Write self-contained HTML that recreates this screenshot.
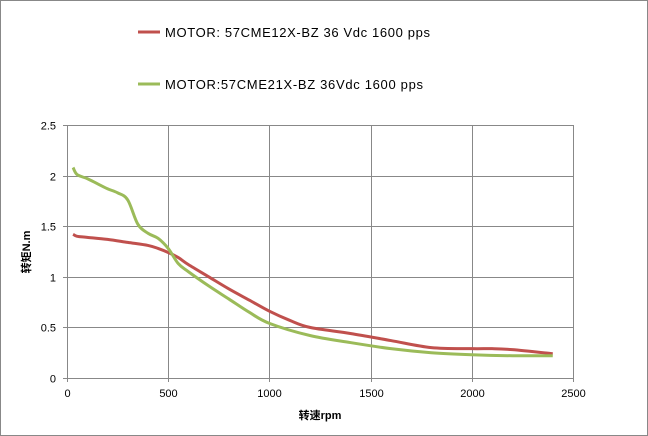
<!DOCTYPE html>
<html><head><meta charset="utf-8"><style>
body{margin:0;background:#fff;}
svg{display:block;font-family:"Liberation Sans","Noto Sans CJK SC",sans-serif;}
</style></head><body>
<svg id="chart" width="648" height="436">
<rect x="0.5" y="0.5" width="647" height="435" fill="#fff" stroke="#888"/>
<g id="grid"></g><g id="axes"></g><g id="series"></g>
<g>
<line x1="138" y1="32" x2="160" y2="32" stroke="#c0504d" stroke-width="3"/>
<text x="165" y="37" font-size="13" fill="#000" textLength="265">MOTOR: 57CME12X-BZ 36 Vdc  1600 pps</text>
<line x1="138" y1="84" x2="160" y2="84" stroke="#9bbb59" stroke-width="3"/>
<text x="165" y="89" font-size="13" fill="#000" textLength="258">MOTOR:57CME21X-BZ 36Vdc  1600 pps</text>
</g>
<text x="30" y="252" font-size="11" font-weight="bold" text-anchor="middle" transform="rotate(-90 30 252)">转矩N.m</text>
<text x="320" y="419" font-size="11" font-weight="bold" text-anchor="middle">转速rpm</text>
</svg>
<script>
const xTicks=[0,500,1000,1500,2000,2500];
const yTicks=[0,0.5,1,1.5,2,2.5];
const redRpm=[30,50,100,200,300,400,450,500,550,600,700,800,900,1000,1100,1200,1400,1600,1800,2000,2100,2200,2400];
const redTorque=[1.42,1.40,1.39,1.37,1.34,1.31,1.28,1.24,1.19,1.12,1.0,0.88,0.77,0.66,0.57,0.5,0.44,0.37,0.3,0.29,0.29,0.28,0.24];
const greenRpm=[30,50,100,150,200,250,300,350,400,450,500,550,600,700,800,900,1000,1200,1400,1600,1800,2000,2200,2400];
const greenTorque=[2.08,2.01,1.97,1.92,1.87,1.83,1.76,1.52,1.43,1.38,1.28,1.13,1.05,0.91,0.78,0.65,0.54,0.42,0.35,0.29,0.25,0.23,0.22,0.22];
const X0=67,X1=573,Y0=378,Y1=125;
const sx=v=>X0+(v-0)/(2500)*(X1-X0);
const sy=v=>Y0-(v/2.5)*(Y0-Y1);
const NS='http://www.w3.org/2000/svg';
function mk(tag,attrs,parent){const e=document.createElementNS(NS,tag);for(const k in attrs)e.setAttribute(k,attrs[k]);parent.appendChild(e);return e;}
const grid=document.getElementById('grid'),axes=document.getElementById('axes'),ser=document.getElementById('series');
yTicks.forEach(t=>{const y=Math.round(sy(t))+0.5;
 const l=mk('line',{x1:X0-4,x2:X1,y1:y,y2:y,stroke:'#888','stroke-width':1},grid);
 
 
 const tx=mk('text',{x:56,y:y+4,'font-size':11,'text-anchor':'end'},axes);tx.textContent=t;
 
 });
xTicks.forEach(t=>{const x=Math.round(sx(t))+0.5;
 const l=mk('line',{x1:x,x2:x,y1:Y1,y2:Y0+4,stroke:'#888','stroke-width':1},grid);
 
 
 const tx=mk('text',{x:x,y:397,'font-size':11,'text-anchor':'middle'},axes);tx.textContent=t;
 
 });
function smooth(xs,ys){const p=xs.map((x,i)=>[sx(x),sy(ys[i])]);let d='M'+p[0][0]+','+p[0][1];
 for(let i=0;i<p.length-1;i++){const p0=p[Math.max(0,i-1)],p1=p[i],p2=p[i+1],p3=p[Math.min(p.length-1,i+2)];
  const c1=[p1[0]+(p2[0]-p0[0])/6,p1[1]+(p2[1]-p0[1])/6],c2=[p2[0]-(p3[0]-p1[0])/6,p2[1]-(p3[1]-p1[1])/6];
  d+=` C${c1[0]},${c1[1]} ${c2[0]},${c2[1]} ${p2[0]},${p2[1]}`;}return d;}
const r=mk('path',{d:smooth(redRpm,redTorque),fill:'none',stroke:'#c0504d','stroke-width':3},ser);


const g=mk('path',{d:smooth(greenRpm,greenTorque),fill:'none',stroke:'#9bbb59','stroke-width':3},ser);


</script>
</body></html>
